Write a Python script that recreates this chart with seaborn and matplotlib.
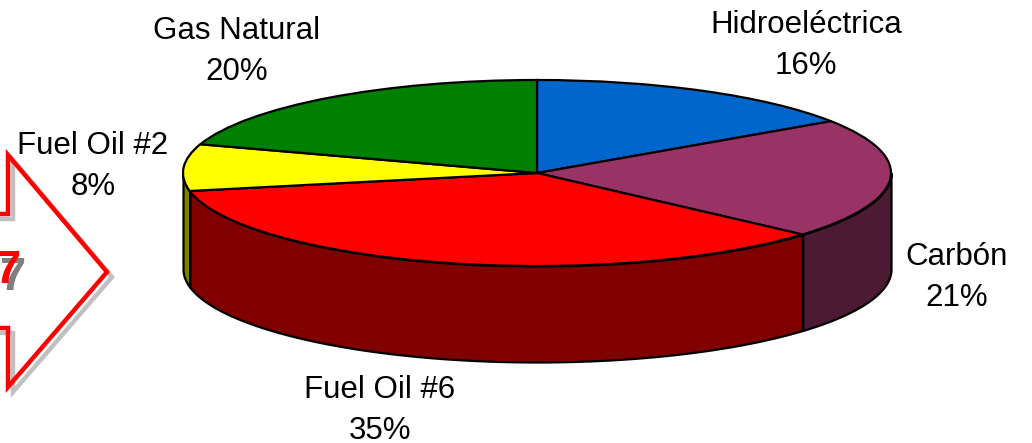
"""Recreate the 3D style energy mix pie chart with the arrow on its left."""

import numpy as np
import matplotlib.pyplot as plt
import seaborn as sns

labels = ['Hidroeléctrica', 'Carbón', 'Fuel Oil #6', 'Fuel Oil #2', 'Gas Natural']
shares = [15.6, 20.9, 35.4, 8.1, 20.0]
top_colors = ['#0066cc', '#993366', '#ff0000', '#ffff00', '#008000']
side_colors = ['#003366', '#4d1a33', '#800000', '#808000', '#004000']
label_centers = [(806, 45), (957, 277), (380, 410), (93, 166), (237, 51)]

sns.set_theme(style='white')
plt.rcParams['font.family'] = ['Liberation Sans', 'DejaVu Sans']

W, H = 1032, 443
CX, CY, RX, RY, DEPTH = 537, 173, 354, 93, 96

fig = plt.figure(figsize=(W / 100, H / 100), dpi=100)
ax = fig.add_axes([0, 0, 1, 1])
ax_px = fig.add_axes([0, 0, 1, 1])
ax_px.set_xlim(0, W)
ax_px.set_ylim(H, 0)
ax_px.axis('off')

# top face: unit pie, the axis limits squash it into the ellipse
ax.pie(shares, colors=sns.color_palette(top_colors), startangle=90, counterclock=False,
       wedgeprops={'edgecolor': 'black', 'linewidth': 1.6, 'zorder': 3})
ax.set_aspect('auto')
ax.set_xlim(-CX / RX, (W - CX) / RX)
ax.set_ylim((CY - H) / RY, CY / RY)

# side walls, only the front half of the rim (90 to 270 deg clockwise from top) shows
depth = DEPTH / RY
edges = np.cumsum([0] + shares) * 3.6
for i, color in enumerate(side_colors):
    lo, hi = max(edges[i], 90), min(edges[i + 1], 270)
    if lo >= hi:
        continue
    t = np.radians(np.linspace(lo, hi, 100))
    x, y = np.sin(t), np.cos(t)
    ax.fill_between(x, y, y - depth, facecolor=color, edgecolor='black', linewidth=1.6, zorder=2)

# arrow with its hatched shadow
arrow_x = [-6, 8, 8, 107, 8, 8, -6]
arrow_y = [214, 214, 155, 272, 387, 328, 328]
ax_px.plot(np.array(arrow_x) + 5, np.array(arrow_y) + 5, color='#c0c0c0', lw=3.2,
           solid_joinstyle='miter', zorder=1)
ax_px.plot(arrow_x, arrow_y, color='#ff0000', lw=3.2, solid_joinstyle='miter', zorder=2)
ax_px.text(26, 278, '7', color='#808080', fontsize=34, fontweight='bold', ha='right', va='center')
ax_px.text(21, 271, '7', color='#ff0000', fontsize=34, fontweight='bold', ha='right', va='center')

for name, share, (tx, ty) in zip(labels, shares, label_centers):
    ax_px.text(tx, ty - 20, name, fontsize=22.5, color='black', ha='center', va='center')
    ax_px.text(tx, ty + 21, f'{share:.0f}%', fontsize=22.5, color='black', ha='center', va='center')

fig.savefig('out.png', dpi=100)
